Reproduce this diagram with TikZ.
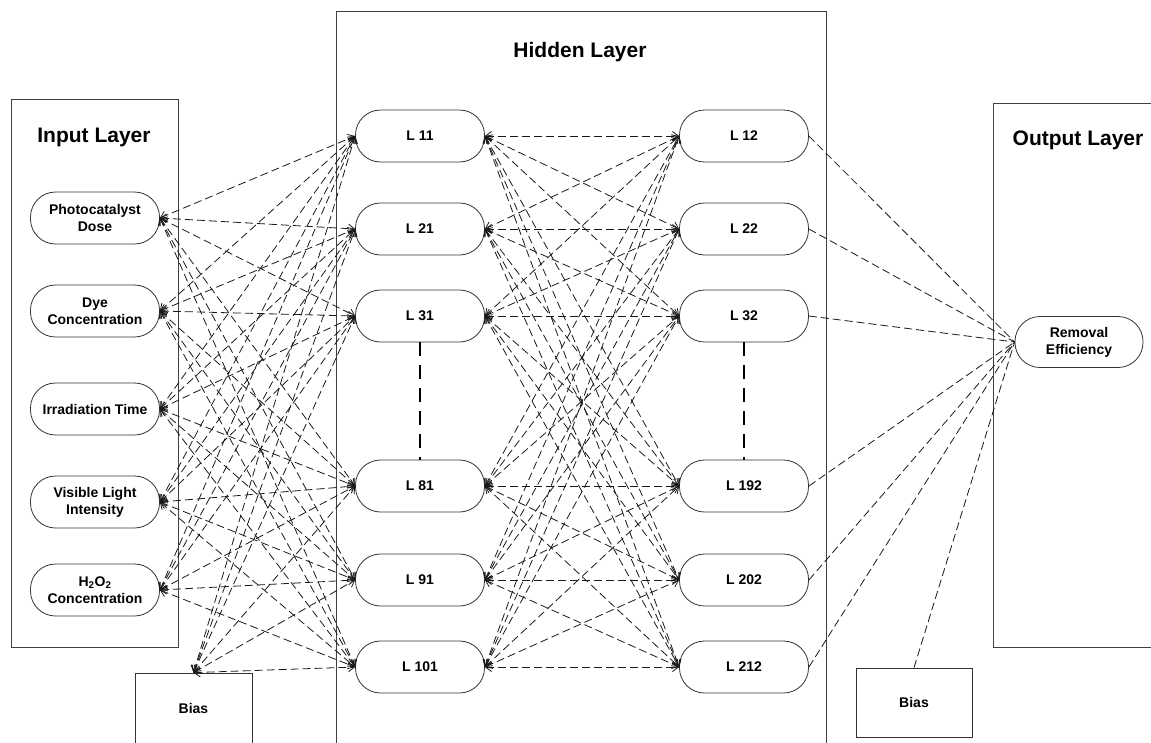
\documentclass[tikz,border=0pt]{standalone}
\usepackage{fontspec}
\setmainfont{Liberation Sans}
\usetikzlibrary{arrows.meta}

\begin{document}
\begin{tikzpicture}[x=1pt,y=-1pt]

\tikzset{vertex/.style = {shape=rectangle,rounded corners=25pt,draw=black!80,line width=0.8pt,minimum width=129pt,minimum height=52pt,align=center,font=\bfseries\fontsize{14}{17}\selectfont}}
\tikzset{edge/.style = {<->,> = {Straight Barb[length=6pt,width=9pt]},dash pattern=on 8pt off 4pt,line width=0.8pt,black!90}}
\tikzset{link/.style = {dash pattern=on 8pt off 4pt,line width=0.8pt,black!90}}
\tikzset{layer/.style = {draw=black!75,line width=0.9pt}}
\tikzset{title/.style = {anchor=base,font=\bfseries\fontsize{21}{25}\selectfont}}
\tikzset{bias/.style = {shape=rectangle,draw=black!80,line width=0.8pt,font=\bfseries\fontsize{14}{17}\selectfont}}

\useasboundingbox (0,0) rectangle (1151,742);
\clip (0,0) rectangle (1151,742);
%layers
\draw[layer] (11,99) rectangle (178,647);
\draw[layer] (336,11) rectangle (826,760);
\draw[layer] (993,103) rectangle (1170,647);
\node[title] (tin) at (94,142) {Input Layer};
\node[title] (thid) at (580,57) {Hidden Layer};
\node[title] (tout) at (1078,145) {Output Layer};
%inputs
\node[vertex] (i1) at (95,218) {Photocatalyst\\Dose};
\node[vertex] (i2) at (95,311) {Dye\\Concentration};
\node[vertex] (i3) at (95,409) {Irradiation Time};
\node[vertex] (i4) at (95,502) {Visible Light\\Intensity};
\node[vertex] (i5) at (95,590) {H\textsubscript{2}O\textsubscript{2}\\Concentration};
%hidden
\node[vertex] (11) at (420,136) {L 11};
\node[vertex] (21) at (420,229) {L 21};
\node[vertex] (31) at (420,316) {L 31};
\node[vertex] (81) at (420,486) {L 81};
\node[vertex] (91) at (420,580) {L 91};
\node[vertex] (101) at (420,667) {L 101};
\node[vertex] (12) at (744,136) {L 12};
\node[vertex] (22) at (744,229) {L 22};
\node[vertex] (32) at (744,316) {L 32};
\node[vertex] (192) at (744,486) {L 192};
\node[vertex] (202) at (744,580) {L 202};
\node[vertex] (212) at (744,667) {L 212};
%output and bias
\node[vertex,minimum width=128pt,minimum height=51pt] (out) at (1079,342) {Removal\\Efficiency};
\node[bias,minimum width=117pt,minimum height=70pt] (b1) at (193.5,708) {Bias};
\node[bias,minimum width=116pt,minimum height=69pt] (b2) at (914,702.5) {Bias};
%edges
\draw [dash pattern=on 14pt off 9pt,line width=1.2pt] (31) -- (81);
\draw [dash pattern=on 14pt off 9pt,line width=1.2pt] (32) -- (192);
\foreach \i in {i1,i2,i3,i4,i5}
  \foreach \h in {11,21,31,81,91,101}
    \draw [edge] (\i.east) -- (\h.west);
\foreach \h in {11,21,31,81,91,101}
  \draw [edge] (b1.north) -- (\h.west);
\foreach \a in {11,21,31,81,91,101}
  \foreach \b in {12,22,32,192,202,212}
    \draw [edge] (\a.east) -- (\b.west);
\foreach \b in {12,22,32,192,202,212}
  \draw [link] (\b.east) -- (out.west);
\draw [link] (b2.north) -- (out.west);

\end{tikzpicture}
\end{document}
